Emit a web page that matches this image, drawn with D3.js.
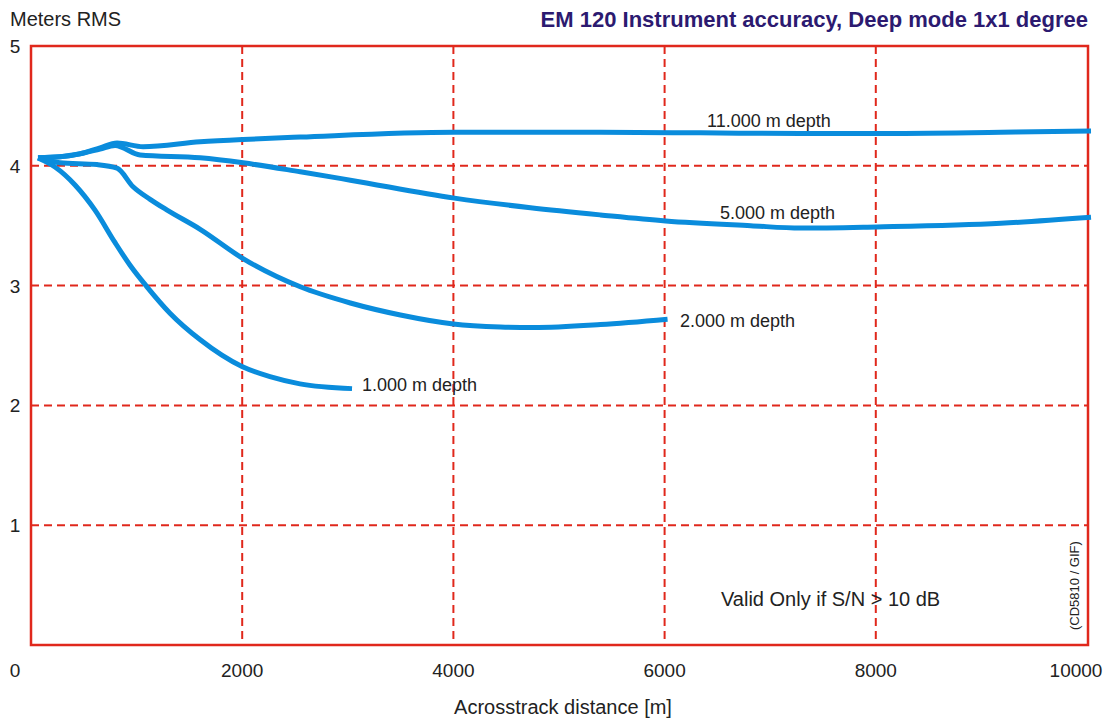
<!DOCTYPE html>
<html><head><meta charset="utf-8">
<script src="https://cdn.jsdelivr.net/npm/d3@7"></script>
<style>body{margin:0;background:#fff}svg{display:block;font-family:"Liberation Sans",Arial,sans-serif}</style>
</head><body>
<svg id="c" width="1107" height="718"></svg>
<script>
const xTicks = [0, 2000, 4000, 6000, 8000, 10000];
const yTicks = [1, 2, 3, 4, 5];
const depthLabels = ["11.000 m depth", "5.000 m depth", "2.000 m depth", "1.000 m depth"];
const d11000x = [66, 275, 464, 654, 815, 1062, 1602, 2009, 2550, 4009, 5393, 6341, 7289, 8009, 9185, 10038];
const d11000y = [4.067, 4.075, 4.10, 4.15, 4.19, 4.16, 4.20, 4.22, 4.24, 4.28, 4.28, 4.275, 4.27, 4.27, 4.28, 4.29];
const d5000x = [66, 275, 464, 654, 796, 1033, 1602, 2009, 2550, 3024, 4009, 4730, 5393, 6009, 6815, 7289, 8009, 9185, 10038];
const d5000y = [4.067, 4.075, 4.10, 4.14, 4.17, 4.09, 4.067, 4.025, 3.95, 3.88, 3.73, 3.65, 3.59, 3.54, 3.50, 3.48, 3.49, 3.52, 3.57];
const d2000x = [66, 275, 626, 815, 967, 1128, 1289, 1602, 2000, 2550, 3024, 3498, 4000, 4445, 4758, 5393, 6028];
const d2000y = [4.067, 4.025, 4.01, 3.98, 3.825, 3.72, 3.63, 3.47, 3.23, 2.99, 2.855, 2.755, 2.68, 2.655, 2.65, 2.675, 2.72];
const d1000x = [66, 227, 417, 606, 795, 938, 1098, 1316, 1600, 1998, 2263, 2547, 3040];
const d1000y = [4.065, 3.99, 3.84, 3.63, 3.36, 3.17, 2.99, 2.77, 2.55, 2.325, 2.24, 2.18, 2.14];

const svg = d3.select("#c");
const x = d3.scaleLinear().domain([0, 10000]).range([31, 1087]);
const y = d3.scaleLinear().domain([0, 5]).range([645, 46]);
const red = "#e0281c";

// grid
svg.append("g").selectAll("line").data(xTicks.filter(v => v > 0 && v < 10000)).join("line")
  .attr("x1", d => x(d)).attr("x2", d => x(d)).attr("y1", y(5)).attr("y2", y(0))
  .attr("stroke", red).attr("stroke-width", 2).attr("stroke-dasharray", "8,5");
svg.append("g").selectAll("line").data(yTicks.filter(v => v < 5)).join("line")
  .attr("x1", x(0)).attr("x2", x(10000)).attr("y1", d => y(d)).attr("y2", d => y(d))
  .attr("stroke", red).attr("stroke-width", 2).attr("stroke-dasharray", "8,5");
// frame
svg.append("rect").attr("x", x(0)).attr("y", y(5)).attr("width", x(10000) - x(0) + 1).attr("height", y(0) - y(5))
  .attr("fill", "none").attr("stroke", red).attr("stroke-width", 2.5);

// curves
const series = [[d11000x, d11000y], [d5000x, d5000y], [d2000x, d2000y], [d1000x, d1000y]];
const line = d3.line().x(d => x(d[0])).y(d => y(d[1])).curve(d3.curveMonotoneX);
svg.append("g").selectAll("path").data(series.map(s => s[0].map((v, i) => [v, s[1][i]]))).join("path")
  .attr("d", line).attr("fill", "none").attr("stroke", "#0a8cdc").attr("stroke-width", 5)
  .attr("stroke-linecap", "butt").attr("stroke-linejoin", "round");

// depth labels
const labelPos = [[6402, 4.32], [6525, 3.556], [6146, 2.654], [3134, 2.12]];
svg.append("g").selectAll("text").data(depthLabels).join("text")
  .attr("x", (d, i) => x(labelPos[i][0])).attr("y", (d, i) => y(labelPos[i][1]))
  .attr("font-size", 18).attr("fill", "#222").text(d => d);

// axis labels
svg.append("g").selectAll("text").data(yTicks).join("text")
  .attr("x", 15).attr("y", d => y(d) + 7).attr("text-anchor", "middle")
  .attr("font-size", 19).attr("fill", "#222").text(d => d);
svg.append("g").selectAll("text").data(xTicks).join("text")
  .attr("x", d => d === 0 ? 15 : Math.min(x(d), 1076)).attr("y", 677).attr("text-anchor", "middle")
  .attr("font-size", 19).attr("fill", "#222").text(d => d);

svg.append("text").attr("x", 10).attr("y", 26).attr("font-size", 20).attr("fill", "#222").text("Meters RMS");
svg.append("text").attr("x", 1088).attr("y", 27).attr("text-anchor", "end").attr("font-size", 22)
  .attr("font-weight", "bold").attr("fill", "#2c1a70").text("EM 120 Instrument accuracy, Deep mode 1x1 degree");
svg.append("text").attr("x", 563).attr("y", 714).attr("text-anchor", "middle").attr("font-size", 20)
  .attr("fill", "#222").text("Acrosstrack distance [m]");
svg.append("text").attr("x", 721).attr("y", 606).attr("font-size", 20).attr("fill", "#222").text("Valid Only if S/N > 10 dB");
svg.append("text").attr("transform", "translate(1079,630) rotate(-90)").attr("font-size", 13)
  .attr("fill", "#222").text("(CD5810 / GIF)");
</script>
</body></html>
